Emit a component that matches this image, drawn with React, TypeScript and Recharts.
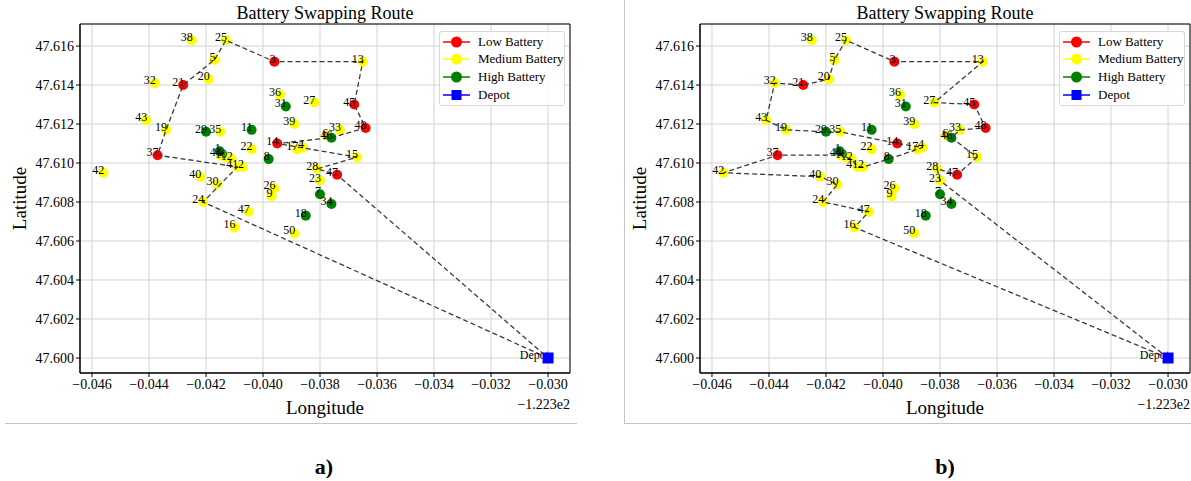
import React from 'react';
import { ScatterChart, Scatter, XAxis, YAxis, CartesianGrid, ReferenceArea } from 'recharts';

const SERIF = '"Liberation Serif", "DejaVu Serif", serif';

// longitudes are given as on the axis, i.e. relative to the -1.223e2 offset
const nodeIds = [
  '38', '25', '5', '3', '13', '32', '21', '20', '36', '31',
  '27', '45', '48', '43', '19', '29', '35', '11', '39', '33',
  '6', '46', '1', '44', '10', '12', '41', '2', '14', '17',
  '4', '22', '8', '15', '37', '28', '47', '23', '42', '40',
  '30', '26', '9', '24', '7', '34', '47*', '18', '16', '50',
];
const nodeLon = [
  -0.0425, -0.0413, -0.0417, -0.0396, -0.0365, -0.0438, -0.0428, -0.0419, -0.0394, -0.0392,
  -0.0382, -0.0368, -0.0364, -0.0441, -0.0434, -0.042, -0.0415, -0.0404, -0.0389, -0.0373,
  -0.03775, -0.0376, -0.04152, -0.04148, -0.0413, -0.0411, -0.0409, -0.0407, -0.0395, -0.0388,
  -0.0386, -0.0404, -0.0398, -0.0367, -0.0437, -0.0381, -0.0374, -0.038, -0.0456, -0.0422,
  -0.0416, -0.0396, -0.0397, -0.0421, -0.038, -0.0376, -0.0405, -0.0385, -0.041, -0.0389,
];
const nodeLat = [
  47.6163, 47.6163, 47.6153, 47.6152, 47.6152, 47.6141, 47.614, 47.6143, 47.6135, 47.6129,
  47.6131, 47.613, 47.6118, 47.6122, 47.6117, 47.6116, 47.6116, 47.6117, 47.612, 47.6117,
  47.6114, 47.6113, 47.6106, 47.6104, 47.6103, 47.6102, 47.6098, 47.6098, 47.611, 47.6107,
  47.6108, 47.6107, 47.6102, 47.6103, 47.6104, 47.6097, 47.6094, 47.6091, 47.6095, 47.6093,
  47.6089, 47.6087, 47.6083, 47.608, 47.6084, 47.6079, 47.6075, 47.6073, 47.6067, 47.6064,
];
const nodeLevel = [
  'M', 'M', 'M', 'L', 'M', 'M', 'L', 'M', 'M', 'H',
  'M', 'L', 'L', 'M', 'M', 'H', 'M', 'H', 'M', 'M',
  'M', 'H', 'H', 'M', 'M', 'M', 'M', 'M', 'L', 'M',
  'M', 'M', 'H', 'M', 'L', 'M', 'L', 'M', 'M', 'M',
  'M', 'M', 'M', 'M', 'H', 'H', 'M', 'H', 'M', 'M',
];
const depotLon = -0.03;
const depotLat = 47.6;

const routeA = ['Depot', '24', '41', '37', '19', '21', '5', '25', '3', '13', '45', '48', '46', '14', '15', '28', '47', 'Depot'];
const routeB = [
  'Depot', '16', '47*', '24', '30', '40', '42', '37', '44', '10', '12', '41', '2', '8', '4', '14',
  '35', '29', '19', '43', '32', '21', '20', '5', '25', '3', '13', '27', '45', '48', '33', '46',
  '15', '47', '28', '23', 'Depot',
];

const xTicks = [-0.046, -0.044, -0.042, -0.04, -0.038, -0.036, -0.034, -0.032, -0.03];
const yTicks = [47.6, 47.602, 47.604, 47.606, 47.608, 47.61, 47.612, 47.614, 47.616];

const X_MIN = -0.04642;
const X_MAX = -0.02923;
const Y_MIN = 47.59923;
const Y_MAX = 47.61713;

const levelColors: Record<string, string> = { L: '#ff0000', M: '#ffff00', H: '#008000' };
const legendItems = [
  { name: 'Low Battery', color: '#ff0000', square: false },
  { name: 'Medium Battery', color: '#ffff00', square: false },
  { name: 'High Battery', color: '#008000', square: false },
  { name: 'Depot', color: '#0000ff', square: true },
];

const nodes = nodeIds.map((id, i) => ({
  id,
  label: id.replace('*', ''),
  x: nodeLon[i],
  y: nodeLat[i],
  level: nodeLevel[i],
}));
const depot = { id: 'Depot', label: 'Depot', x: depotLon, y: depotLat, level: 'D' };
const byId: Record<string, any> = { Depot: depot };
nodes.forEach((n) => (byId[n.id] = n));

const fmtX = (v: number) => v.toFixed(3).replace('-', '\u2212');
const fmtY = (v: number) => v.toFixed(3);

const dot = (color: string) => (p: any) => <circle cx={p.cx} cy={p.cy} r={5} fill={color} />;
const square = (p: any) => <rect x={p.cx - 5.5} y={p.cy - 5.5} width={11} height={11} fill="#0000ff" />;
const noShape = () => <g />;
const labelShape = (p: any) => (
  <text x={p.cx + 1} y={p.cy + 1} textAnchor="end" fontSize={12} fontFamily={SERIF} fill="#000">
    {p.payload.label}
  </text>
);

const Panel = ({ route, left }: { route: string[]; left: number }) => {
  const routeData = route.map((id) => byId[id]);
  return (
    <div style={{ position: 'absolute', left, top: 0, width: 580, height: 440, fontFamily: SERIF }}>
      <ScatterChart
        width={580}
        height={440}
        margin={{ top: 24, right: 10, bottom: 22, left: 0 }}
        style={{ fontFamily: SERIF }}
      >
        <CartesianGrid stroke="#d3d3d3" strokeWidth={1} />
        <XAxis
          type="number"
          dataKey="x"
          domain={[X_MIN, X_MAX]}
          allowDataOverflow
          ticks={xTicks}
          tickFormatter={fmtX}
          height={45}
          tickSize={4}
          stroke="#000"
          tick={{ fill: '#000', fontSize: 14, fontFamily: SERIF }}
          label={{ value: 'Longitude', position: 'insideBottom', offset: 4, fontSize: 19, fill: '#000', fontFamily: SERIF }}
        />
        <YAxis
          type="number"
          dataKey="y"
          domain={[Y_MIN, Y_MAX]}
          allowDataOverflow
          ticks={yTicks}
          tickFormatter={fmtY}
          width={80}
          tickSize={4}
          stroke="#000"
          tick={{ fill: '#000', fontSize: 14, fontFamily: SERIF }}
          label={{
            value: 'Latitude',
            angle: -90,
            position: 'insideLeft',
            offset: 19,
            fontSize: 19,
            fill: '#000',
            fontFamily: SERIF,
            style: { textAnchor: 'middle' },
          }}
        />
        <ReferenceArea x1={X_MIN} x2={X_MAX} y1={Y_MIN} y2={Y_MAX} fill="none" stroke="#000" strokeWidth={1} />
        {['L', 'M', 'H'].map((lv) => (
          <Scatter
            key={lv}
            data={nodes.filter((n) => n.level === lv)}
            shape={dot(levelColors[lv])}
            isAnimationActive={false}
          />
        ))}
        <Scatter
          data={routeData}
          line={{ stroke: '#3a3a3a', strokeWidth: 1.3, strokeDasharray: '5 3' }}
          shape={noShape}
          isAnimationActive={false}
        />
        <Scatter data={[...nodes, depot]} shape={labelShape} isAnimationActive={false} />
        <Scatter data={[depot]} shape={square} isAnimationActive={false} />
      </ScatterChart>
    </div>
  );
};

const LegendBox = ({ left }: { left: number }) => (
  <div
    style={{
      position: 'absolute',
      left,
      top: 31,
      width: 126,
      height: 75,
      boxSizing: 'border-box',
      border: '1px solid #d8d8d8',
      borderRadius: 3,
      background: 'rgba(255,255,255,0.85)',
      fontFamily: SERIF,
    }}
  >
    {legendItems.map((it, i) => (
      <div
        key={it.name}
        style={{ position: 'absolute', left: 3, top: 0.5 + i * 17.8, height: 18, display: 'flex', alignItems: 'center' }}
      >
        <svg width={27} height={18}>
          <line x1={0} y1={9} x2={27} y2={9} stroke={it.color} strokeWidth={1.5} />
          {it.square ? (
            <rect x={8.5} y={4} width={10} height={10} fill={it.color} />
          ) : (
            <circle cx={13.5} cy={9} r={5.5} fill={it.color} />
          )}
        </svg>
        <span style={{ marginLeft: 8, fontSize: 13, color: '#000', whiteSpace: 'nowrap' }}>{it.name}</span>
      </div>
    ))}
  </div>
);

const textBase: React.CSSProperties = { position: 'absolute', fontFamily: SERIF, color: '#000', whiteSpace: 'nowrap' };

const App = () => (
  <div
    style={{
      position: 'absolute',
      left: 0,
      top: 0,
      width: 1191,
      height: 481,
      background: '#fff',
      overflow: 'hidden',
      fontFamily: SERIF,
    }}
  >
    <Panel route={routeA} left={0} />
    <Panel route={routeB} left={620} />

    <div style={{ ...textBase, left: 80, width: 490, top: 2, textAlign: 'center', fontSize: 18, lineHeight: '22px' }}>
      Battery Swapping Route
    </div>
    <div style={{ ...textBase, left: 700, width: 490, top: 2, textAlign: 'center', fontSize: 18, lineHeight: '22px' }}>
      Battery Swapping Route
    </div>

    <div style={{ ...textBase, left: 470, width: 100, top: 396, textAlign: 'right', fontSize: 14, lineHeight: '18px' }}>
      {'\u22121.223e2'}
    </div>
    <div style={{ ...textBase, left: 1090, width: 100, top: 396, textAlign: 'right', fontSize: 14, lineHeight: '18px' }}>
      {'\u22121.223e2'}
    </div>

    <LegendBox left={439} />
    <LegendBox left={1059} />

    <div style={{ position: 'absolute', left: 5, top: 423, width: 572, height: 1, background: '#c4c4c4' }} />
    <div style={{ position: 'absolute', left: 624, top: 0, width: 1, height: 423, background: '#c4c4c4' }} />
    <div style={{ position: 'absolute', left: 624, top: 423, width: 567, height: 1, background: '#c4c4c4' }} />

    <div style={{ ...textBase, left: 274, width: 100, top: 454, textAlign: 'center', fontSize: 22, fontWeight: 'bold', lineHeight: '26px' }}>
      a)
    </div>
    <div style={{ ...textBase, left: 895, width: 100, top: 454, textAlign: 'center', fontSize: 22, fontWeight: 'bold', lineHeight: '26px' }}>
      b)
    </div>
  </div>
);

export default App;
